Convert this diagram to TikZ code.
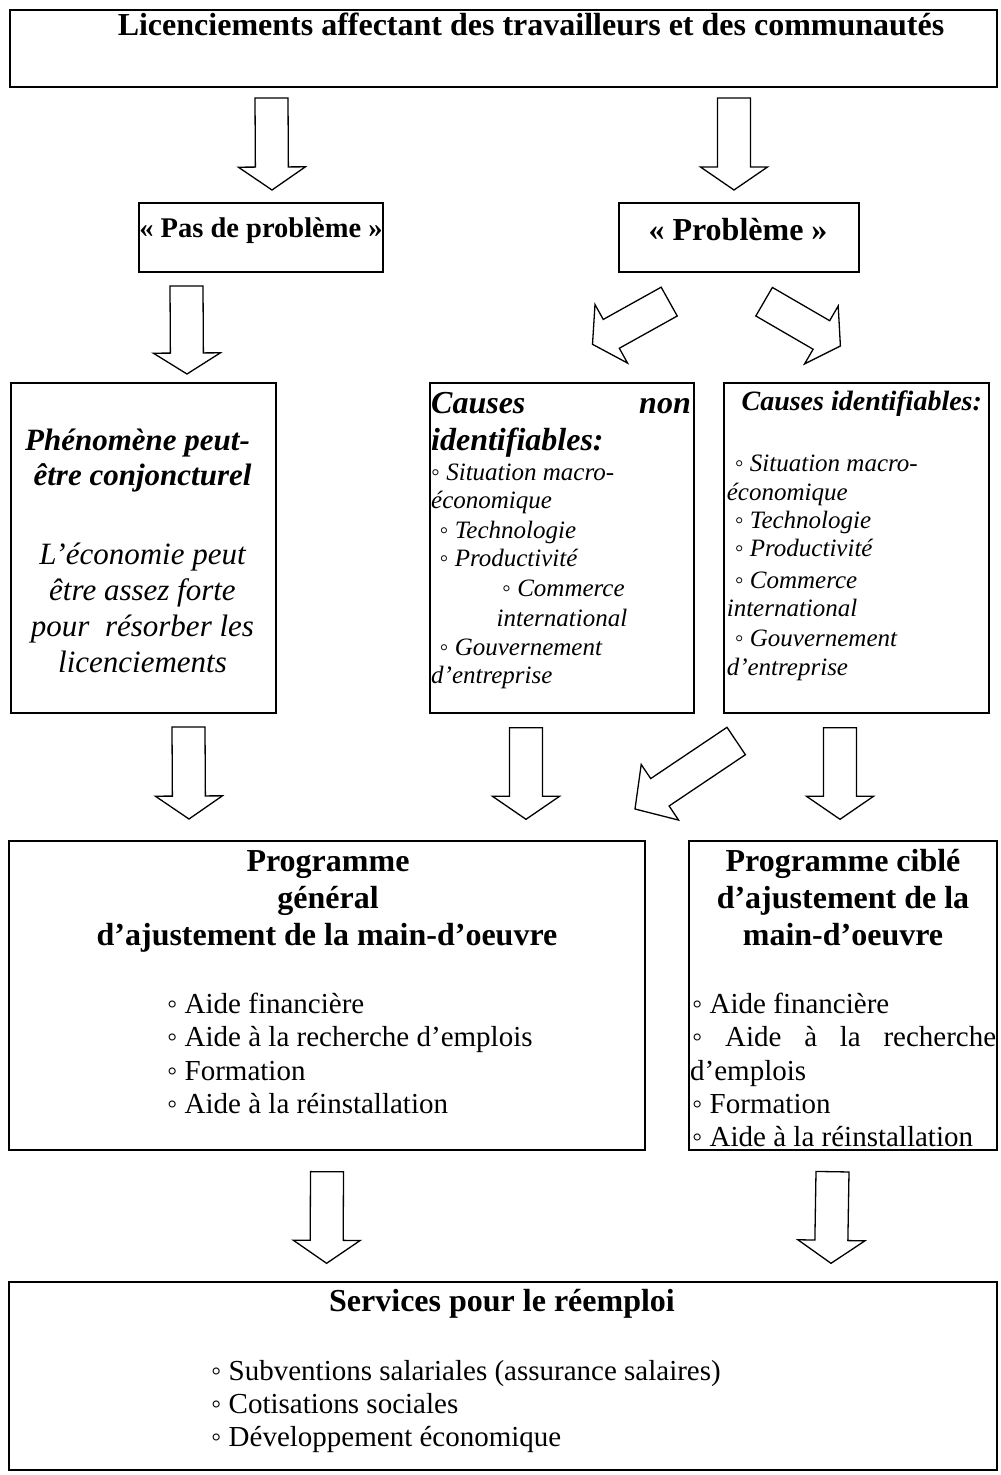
\documentclass[tikz,border=0pt]{standalone}
\usepackage{fontspec}
\setmainfont{Liberation Serif}
\usetikzlibrary{calc}
\newcommand\blkarrow[3]{%
  \coordinate (bahead) at ($(#2)!#3!(#1)$);
  \draw[blk] ($(#1)!16.5pt!90:(#2)$) -- ($(bahead)!16.5pt!-90:(#1)$) -- ($(bahead)!33.5pt!-90:(#1)$) -- (#2)
    -- ($(bahead)!33.5pt!90:(#1)$) -- ($(bahead)!16.5pt!90:(#1)$) -- ($(#1)!16.5pt!-90:(#2)$) -- cycle;}
\begin{document}
\begin{tikzpicture}[x=1pt,y=1pt,
  box/.style={draw, line width=1.8pt, inner sep=0pt, outer sep=0pt, anchor=north west},
  blk/.style={draw, line width=1.3pt, fill=white, line join=miter},
  lt/.style={inner sep=0pt, anchor=base west},
  ct/.style={inner sep=0pt, anchor=base},
  rt/.style={inner sep=0pt, anchor=base east},
  bd32/.style={font=\fontsize{32}{37}\selectfont\bfseries},
  bd28/.style={font=\fontsize{28.5}{33}\selectfont\bfseries},
  bi32/.style={font=\fontsize{32}{37}\selectfont\bfseries\itshape},
  bi31/.style={font=\fontsize{31}{36}\selectfont\bfseries\itshape},
  bi28/.style={font=\fontsize{28}{33}\selectfont\bfseries\itshape},
  it31/.style={font=\fontsize{31}{36}\selectfont\itshape},
  it25/.style={font=\fontsize{25}{29}\selectfont\itshape},
  rm29/.style={font=\fontsize{29}{33}\selectfont}]
\fill[white] (0,0) rectangle (1001,-1475);
\useasboundingbox (0,0) rectangle (1001,-1475);

% boxes
\node[box, minimum width=987pt, minimum height=77pt] (top) at (10,-10) {};
\node[box, minimum width=244pt, minimum height=69pt] (pas) at (139,-203) {};
\node[box, minimum width=240pt, minimum height=69pt] (prob) at (619,-203) {};
\node[box, minimum width=265pt, minimum height=330pt] (phen) at (11,-383) {};
\node[box, minimum width=264pt, minimum height=330pt] (nonid) at (430,-383) {};
\node[box, minimum width=265pt, minimum height=330pt] (ident) at (724,-383) {};
\node[box, minimum width=636pt, minimum height=309pt] (gen) at (9,-841) {};
\node[box, minimum width=308pt, minimum height=309pt] (cib) at (689,-841) {};
\node[box, minimum width=988pt, minimum height=188pt] (serv) at (9,-1282) {};

% texts
\node[ct, bd32] (ttop) at (531,-35) {Licenciements affectant des travailleurs et des communautés};
\node[ct, bd28] (tpas) at (261,-237) {« Pas de problème »};
\node[ct, bd32] (tprob) at (738,-240) {« Problème »};

\node[ct, bi31] (ph1) at (137.5,-450) {Phénomène peut-};
\node[ct, bi31] (ph2) at (142.5,-485) {être conjoncturel};
\node[ct, it31] (ph3) at (142.5,-564) {L’économie peut};
\node[ct, it31] (ph4) at (142.5,-600) {être assez forte};
\node[ct, it31] (ph5) at (142.5,-636) {pour~ résorber les};
\node[ct, it31] (ph6) at (142.5,-672) {licenciements};

\node[lt, bi32] (ni1) at (431,-413.3) {Causes};
\node[rt, bi32] (ni1b) at (691,-413.3) {non};
\node[lt, bi32] (ni2) at (431,-450) {identifiables:};
\node[lt, it25] (ni3) at (431,-480) {◦ Situation macro-};
\node[lt, it25] (ni4) at (431,-508.3) {économique};
\node[lt, it25] (ni5) at (439.5,-538.3) {◦ Technologie};
\node[lt, it25] (ni6) at (439.5,-566.7) {◦ Productivité};
\node[lt, it25] (ni7) at (502,-596.7) {◦ Commerce};
\node[lt, it25] (ni8) at (496.5,-626) {international};
\node[lt, it25] (ni9) at (439.5,-655) {◦ Gouvernement};
\node[lt, it25] (ni10) at (431,-683.3) {d’entreprise};

\node[lt, bi28] (id1) at (741.4,-410) {Causes identifiables:};
\node[lt, it25] (id2) at (734.6,-471.7) {◦ Situation macro-};
\node[lt, it25] (id3) at (726.6,-500) {économique};
\node[lt, it25] (id4) at (734.6,-528.3) {◦ Technologie};
\node[lt, it25] (id5) at (734.6,-556.7) {◦ Productivité};
\node[lt, it25] (id6) at (734.6,-588.3) {◦ Commerce};
\node[lt, it25] (id7) at (726.6,-616.7) {international};
\node[lt, it25] (id8) at (734.6,-646.7) {◦ Gouvernement};
\node[lt, it25] (id9) at (726.6,-675) {d’entreprise};

\node[ct, bd32] (g1) at (328,-871.7) {Programme};
\node[ct, bd32] (g2) at (328,-908) {général};
\node[ct, bd32] (g3) at (327,-945) {d’ajustement de la main-d’oeuvre};
\node[lt, rm29] (g4) at (167,-1013) {◦ Aide financière};
\node[lt, rm29] (g5) at (167,-1046.5) {◦ Aide à la recherche d’emplois};
\node[lt, rm29] (g6) at (167,-1080) {◦ Formation};
\node[lt, rm29] (g7) at (167,-1113) {◦ Aide à la réinstallation};

\node[ct, bd32] (c1) at (843,-871.7) {Programme ciblé};
\node[ct, bd32] (c2) at (843,-908) {d’ajustement de la};
\node[ct, bd32] (c3) at (843,-945) {main-d’oeuvre};
\node[lt, rm29] (c4) at (692,-1013) {◦ Aide financière};
\node[lt, rm29] (c5) at (692,-1046.5) {\makebox[304pt][s]{◦ Aide à la recherche}};
\node[lt, rm29] (c6) at (690,-1080) {d’emplois};
\node[lt, rm29] (c7) at (692,-1113) {◦ Formation};
\node[lt, rm29] (c8) at (692,-1146.5) {◦ Aide à la réinstallation};

\node[ct, bd32] (s1) at (502,-1311.7) {Services pour le réemploi};
\node[lt, rm29] (s2) at (211,-1380) {◦ Subventions salariales (assurance salaires)};
\node[lt, rm29] (s3) at (211,-1413) {◦ Cotisations sociales};
\node[lt, rm29] (s4) at (211,-1446) {◦ Développement économique};

% block arrows
\coordinate (a1s) at (271.5,-98);  \coordinate (a1e) at (272,-190);
\coordinate (a2s) at (734,-98);    \coordinate (a2e) at (734,-190);
\coordinate (a3s) at (186.5,-286); \coordinate (a3e) at (187,-374);
\coordinate (a4s) at (669.2,-301.6); \coordinate (a4e) at (592.5,-344.3);
\coordinate (a5s) at (764.1,-301.7); \coordinate (a5e) at (840.4,-346);
\coordinate (a6s) at (188.5,-727); \coordinate (a6e) at (189,-819);
\coordinate (a7s) at (526,-727.7); \coordinate (a7e) at (526,-819.3);
\coordinate (a8s) at (736.2,-741); \coordinate (a8e) at (635,-809);
\coordinate (a9s) at (840,-727.7); \coordinate (a9e) at (840,-819.3);
\coordinate (a10s) at (327,-1171.7); \coordinate (a10e) at (326.6,-1263.3);
\coordinate (a11s) at (832.5,-1171.7); \coordinate (a11e) at (831,-1263.3);
\blkarrow{a1s}{a1e}{23pt}
\blkarrow{a2s}{a2e}{23pt}
\blkarrow{a3s}{a3e}{21pt}
\blkarrow{a4s}{a4e}{21.5pt}
\blkarrow{a5s}{a5e}{22pt}
\blkarrow{a6s}{a6e}{23pt}
\blkarrow{a7s}{a7e}{23pt}
\blkarrow{a8s}{a8e}{30pt}
\blkarrow{a9s}{a9e}{23pt}
\blkarrow{a10s}{a10e}{23pt}
\blkarrow{a11s}{a11e}{23pt}
\end{tikzpicture}
\end{document}
